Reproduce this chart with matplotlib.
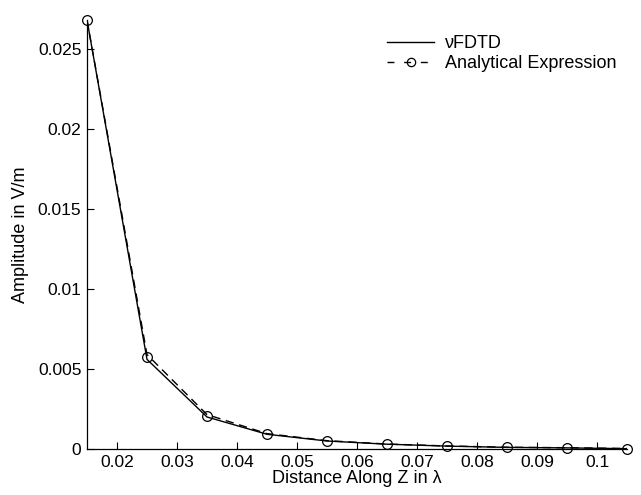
import matplotlib
matplotlib.use("Agg")
import matplotlib.pyplot as plt
from matplotlib.lines import Line2D

plt.rcParams['font.family'] = ['Liberation Sans', 'DejaVu Sans']

x = [0.015, 0.025, 0.035, 0.045, 0.055, 0.065, 0.075, 0.085, 0.095, 0.105]
fdtd = [0.0268, 0.0056, 0.0020, 0.00092, 0.00050, 0.00030, 0.00018, 0.00010, 0.00007, 0.00002]
analytical = [0.0268, 0.0059, 0.00215, 0.00096, 0.00052, 0.00031, 0.00019, 0.00011, 0.00008, 0.00003]
marker_vals = [0.0268, 0.00575, 0.00206, 0.00094, 0.00050, 0.00030, 0.00019, 0.00010, 0.00008, 0.00002]

xticks = [0.02, 0.03, 0.04, 0.05, 0.06, 0.07, 0.08, 0.09, 0.1]
xticklabels = ['0.02', '0.03', '0.04', '0.05', '0.06', '0.07', '0.08', '0.09', '0.1']
yticks = [0, 0.005, 0.01, 0.015, 0.02, 0.025]
yticklabels = ['0', '0.005', '0.01', '0.015', '0.02', '0.025']

fig = plt.figure(figsize=(6.41, 4.95), dpi=100)
ax = fig.add_axes([87/641, 1-449/495, (627-87)/641, (449-20)/495])

ax.plot(x, fdtd, color='black', linewidth=1.0, linestyle='-')
ax.plot(x, analytical, color='black', linewidth=1.0, linestyle=(0, (6, 4)))
ax.plot(x, marker_vals, linestyle='none', marker='o', markersize=7,
        markerfacecolor='none', markeredgecolor='black', markeredgewidth=0.9,
        clip_on=False)

ax.set_xlim(0.015, 0.105)
ax.set_ylim(0, 0.0268)
ax.set_xticks(xticks)
ax.set_xticklabels(xticklabels)
ax.set_yticks(yticks)
ax.set_yticklabels(yticklabels)
ax.tick_params(direction='in', length=5, width=0.8, labelsize=12.5, pad=4)
for s in ['top', 'right']:
    ax.spines[s].set_visible(False)
for s in ['left', 'bottom']:
    ax.spines[s].set_linewidth(0.9)

ax.set_xlabel('Distance Along Z in λ', fontsize=13, labelpad=0)
ax.set_ylabel('Amplitude in V/m', fontsize=13, labelpad=6)

handles = [
    Line2D([], [], color='black', linewidth=1.0, linestyle='-'),
    Line2D([], [], color='black', linewidth=1.0, linestyle=(0, (5, 7)),
           marker='o', markersize=6, markerfacecolor='none', markeredgecolor='black',
           markeredgewidth=0.9),
]
ax.legend(handles, ['νFDTD', 'Analytical Expression'], loc='upper left',
          bbox_to_anchor=((380 - 87) / 540, 1 - (28 - 20) / 429), frameon=False, fontsize=13,
          handlelength=2.6, handletextpad=0.6, labelspacing=0.15, borderaxespad=0)

fig.savefig('out.png', dpi=100)
